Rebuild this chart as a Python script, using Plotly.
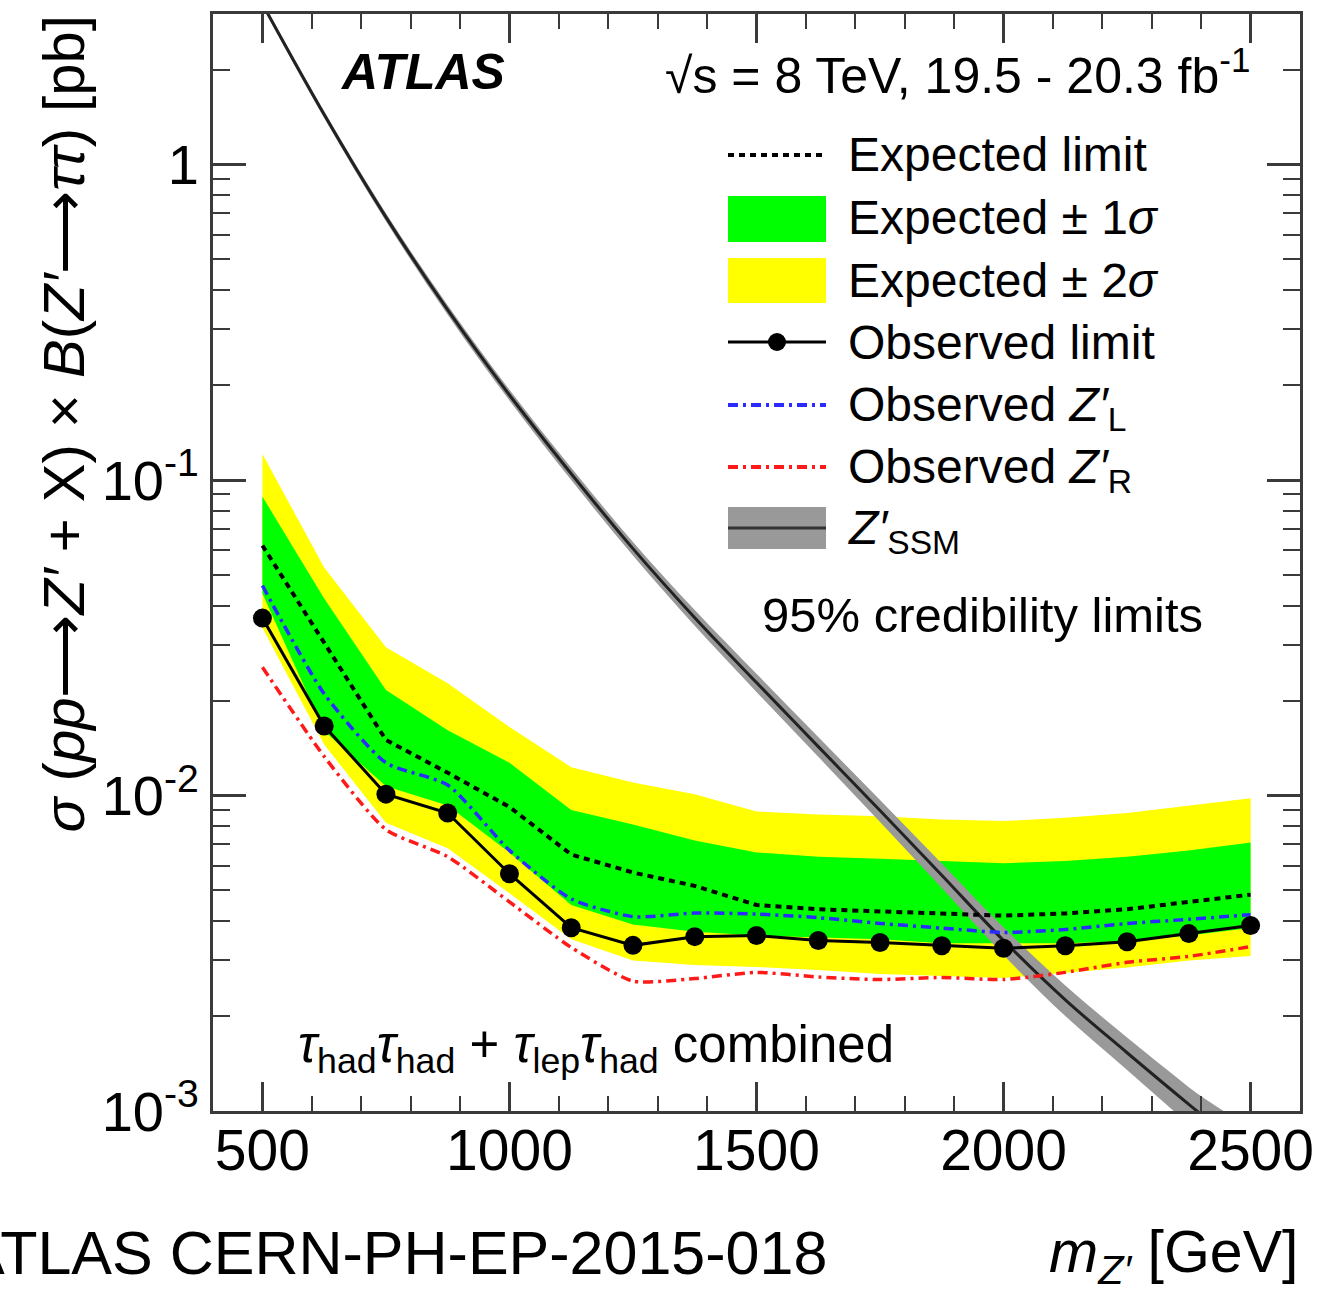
import plotly.graph_objects as go

# ---------------- data ----------------
mass = [500, 625, 750, 875, 1000, 1125, 1250, 1375, 1500, 1625, 1750, 1875, 2000, 2125, 2250, 2375, 2500]
observed = [0.0365, 0.0166, 0.0101, 0.0088, 0.00565, 0.00381, 0.00335, 0.00357, 0.00360, 0.00347,
            0.00342, 0.00334, 0.00328, 0.00334, 0.00344, 0.00365, 0.00387]
expected = [0.0620, 0.0305, 0.0150, 0.0118, 0.0092, 0.0065, 0.0057, 0.00517, 0.0045, 0.00436,
            0.0043, 0.00423, 0.00416, 0.00423, 0.00436, 0.0046, 0.00485]
exp_1s_up = [0.0886, 0.0421, 0.0216, 0.0161, 0.0127, 0.0090, 0.0081, 0.0072, 0.0066, 0.0064,
             0.0063, 0.0062, 0.0061, 0.0062, 0.0064, 0.0067, 0.0071]
exp_1s_dn = [0.0437, 0.0160, 0.0107, 0.0093, 0.0066, 0.0045, 0.0039, 0.0037, 0.0036, 0.00355,
             0.0035, 0.0034, 0.0034, 0.0034, 0.00345, 0.0036, 0.0038]
exp_2s_up = [0.121, 0.0528, 0.0295, 0.0227, 0.0165, 0.0123, 0.0110, 0.0101, 0.0089, 0.0087,
             0.0086, 0.0084, 0.0083, 0.0085, 0.0088, 0.0093, 0.0098]
exp_2s_dn = [0.034, 0.0145, 0.0082, 0.0068, 0.0049, 0.0035, 0.0030, 0.0029, 0.00286, 0.0028,
             0.00272, 0.00268, 0.00264, 0.00275, 0.00285, 0.0030, 0.0031]
obs_zl = [0.0463, 0.0210, 0.0127, 0.0108, 0.0067, 0.0047, 0.00413, 0.00424, 0.00421, 0.0041,
          0.00393, 0.0038, 0.00368, 0.00376, 0.00393, 0.00405, 0.00419]
obs_zr = [0.0255, 0.0133, 0.0078, 0.0064, 0.0046, 0.0033, 0.00258, 0.00263, 0.00275, 0.00266,
          0.00261, 0.00265, 0.00261, 0.00275, 0.00296, 0.00309, 0.00332]

ssm_mass = [500, 625, 750, 875, 1000, 1125, 1250, 1375, 1500, 1625, 1750, 1875, 2000, 2125, 2250, 2375, 2500]
ssm_xsec = [3.23, 1.44, 0.681, 0.346, 0.186, 0.1047, 0.0606, 0.0366, 0.0228, 0.01429, 0.00896,
            0.00559, 0.00347, 0.00225, 0.00153, 0.00105, 0.00073]
ssm_up = [3.295, 1.476, 0.701, 0.358, 0.1934, 0.1094, 0.0636, 0.0387, 0.0243, 0.01532, 0.00968,
          0.00609, 0.00382, 0.00250, 0.00171, 0.00119, 0.00083]
ssm_dn = [3.165, 1.404, 0.661, 0.334, 0.1786, 0.1000, 0.0576, 0.0345, 0.0213, 0.01326, 0.00824,
          0.00509, 0.00312, 0.00200, 0.00135, 0.00091, 0.00063]

x_ticks = [500, 1000, 1500, 2000, 2500]
y_ticks = [0.001, 0.01, 0.1, 1]
y_ticktext = ["10<sup>-3</sup>", "10<sup>-2</sup>", "10<sup>-1</sup>", "1"]

# ---------------- style ----------------
FONT = "Liberation Sans, Arial, Helvetica, sans-serif"
GREEN = "#00ff00"
YELLOW = "#ffff00"
BLUE = "#2b2bff"
RED = "#ff1a1a"
GREY = "#999999"
FRAME = "#3a3a3a"
DASH_EXP = "6px,5px"
DASH_DD = "10px,5px,3px,5px"

W, H = 1339, 1291
L, R, T, B = 213, 39, 14, 180
PW, PH = W - L - R, H - T - B


def px(x):
    return (x - L) / PW


def py(y):
    return (H - B - y) / PH


fig = go.Figure()

# yellow band
fig.add_trace(go.Scatter(x=mass + mass[::-1], y=exp_2s_up + exp_2s_dn[::-1], fill="toself",
                         fillcolor=YELLOW, line=dict(width=0), mode="lines", hoverinfo="skip"))
# green band
fig.add_trace(go.Scatter(x=mass + mass[::-1], y=exp_1s_up + exp_1s_dn[::-1], fill="toself",
                         fillcolor=GREEN, line=dict(width=0), mode="lines", hoverinfo="skip"))
# SSM band
fig.add_trace(go.Scatter(x=ssm_mass + ssm_mass[::-1], y=ssm_up + ssm_dn[::-1], fill="toself",
                         fillcolor=GREY, line=dict(width=0, shape="spline"), mode="lines",
                         hoverinfo="skip"))
fig.add_trace(go.Scatter(x=ssm_mass, y=ssm_xsec, mode="lines",
                         line=dict(color="#222222", width=3, shape="spline")))
# expected
fig.add_trace(go.Scatter(x=mass, y=expected, mode="lines",
                         line=dict(color="black", width=4, dash=DASH_EXP)))
# Z'L, Z'R
fig.add_trace(go.Scatter(x=mass, y=obs_zl, mode="lines",
                         line=dict(color=BLUE, width=3.5, dash=DASH_DD, shape="spline", smoothing=0.6)))
fig.add_trace(go.Scatter(x=mass, y=obs_zr, mode="lines",
                         line=dict(color=RED, width=3.5, dash=DASH_DD, shape="spline", smoothing=0.6)))
# observed
fig.add_trace(go.Scatter(x=mass, y=observed, mode="lines+markers",
                         line=dict(color="black", width=3),
                         marker=dict(color="black", size=19), cliponaxis=False))

# ---------------- legend (drawn manually) ----------------
shapes = []
lx0, lx1 = px(728), px(826)
shapes.append(dict(type="line", xref="paper", yref="paper", x0=lx0, x1=lx1, y0=py(155), y1=py(155),
                   line=dict(color="black", width=4, dash=DASH_EXP)))
shapes.append(dict(type="rect", xref="paper", yref="paper", x0=lx0, x1=lx1, y0=py(242), y1=py(196),
                   fillcolor=GREEN, line=dict(width=0)))
shapes.append(dict(type="rect", xref="paper", yref="paper", x0=lx0, x1=lx1, y0=py(303), y1=py(258),
                   fillcolor=YELLOW, line=dict(width=0)))
shapes.append(dict(type="line", xref="paper", yref="paper", x0=lx0, x1=lx1, y0=py(342), y1=py(342),
                   line=dict(color="black", width=3)))
shapes.append(dict(type="circle", xref="paper", yref="paper", x0=px(768), x1=px(786),
                   y0=py(351), y1=py(333), fillcolor="black", line=dict(width=0)))
shapes.append(dict(type="line", xref="paper", yref="paper", x0=lx0, x1=lx1, y0=py(405), y1=py(405),
                   line=dict(color=BLUE, width=4, dash=DASH_DD)))
shapes.append(dict(type="line", xref="paper", yref="paper", x0=lx0, x1=lx1, y0=py(467), y1=py(467),
                   line=dict(color=RED, width=4, dash=DASH_DD)))
shapes.append(dict(type="rect", xref="paper", yref="paper", x0=lx0, x1=lx1, y0=py(549), y1=py(507),
                   fillcolor=GREY, line=dict(width=0)))
shapes.append(dict(type="line", xref="paper", yref="paper", x0=lx0, x1=lx1, y0=py(528), y1=py(528),
                   line=dict(color="#333333", width=3)))

LEG = 48
ann = []


def text(x, y, s, size=LEG, xanchor="left", yanchor="middle", **kw):
    d = dict(xref="paper", yref="paper", x=px(x), y=py(y), text=s, showarrow=False,
             xanchor=xanchor, yanchor=yanchor, font=dict(family=FONT, size=size, color="black"))
    d.update(kw)
    ann.append(d)


text(846, 155, "Expected limit")
text(846, 218, "Expected ± 1<i>σ</i>")
text(846, 280, "Expected ± 2<i>σ</i>")
text(846, 343, "Observed limit")
text(846, 408, "Observed <i>Z′</i><sub>L</sub>")
text(846, 470, "Observed <i>Z′</i><sub>R</sub>")
text(846, 531, "<i>Z′</i><sub>SSM</sub>")
text(760, 615, "95% credibility limits", size=49)

text(338, 72, "<b><i>ATLAS</i></b>", size=50)
text(1252, 72, "√s = 8 TeV, 19.5 - 20.3 fb<sup>-1</sup>", size=50, xanchor="right")
text(296, 1048, "<i>τ</i><sub>had</sub><i>τ</i><sub>had</sub> + <i>τ</i><sub>lep</sub><i>τ</i><sub>had</sub> combined",
     size=51)

# axis titles
text(1300, 1256, "<i>m</i><sub><i>Z′</i></sub> [GeV]", size=59, xanchor="right")
text(63, 14, "<i>σ</i> (<i>pp</i>⟶<i>Z′</i> + X) × <i>B</i>(<i>Z′</i>⟶<i>ττ</i>) [pb]", size=58,
     xanchor="center", yanchor="top", textangle=-90)
text(-38, 1253, "ATLAS CERN-PH-EP-2015-018", size=61)

y_minor = [k * 10 ** d for d in (-3, -2, -1) for k in range(2, 10)] + [2]

fig.update_layout(
    width=W, height=H,
    margin=dict(l=L, r=R, t=T, b=B, pad=0),
    paper_bgcolor="white", plot_bgcolor="white",
    showlegend=False,
    shapes=shapes,
    annotations=ann,
    font=dict(family=FONT, color="black"),
    xaxis=dict(range=[400, 2600], tickvals=x_ticks, ticks="inside", ticklen=29, tickwidth=2.5,
               tickcolor=FRAME, showline=True, linecolor=FRAME, linewidth=3, mirror="ticks",
               showgrid=False, zeroline=False, ticklabelstandoff=-12,
               tickfont=dict(family=FONT, size=57, color="black"),
               minor=dict(dtick=100, ticks="inside", ticklen=15, tickwidth=2, tickcolor=FRAME,
                          showgrid=False)),
    yaxis=dict(type="log", range=[-3, 0.4771], tickvals=y_ticks, ticktext=y_ticktext,
               ticks="inside", ticklen=33, tickwidth=2.5, tickcolor=FRAME, showline=True,
               linecolor=FRAME, linewidth=3, mirror="ticks", showgrid=False, zeroline=False,
               tickfont=dict(family=FONT, size=56, color="black"),
               minor=dict(tickvals=y_minor, ticks="inside", ticklen=17, tickwidth=2,
                          tickcolor=FRAME, showgrid=False)),
)

fig.write_html("out.html")
